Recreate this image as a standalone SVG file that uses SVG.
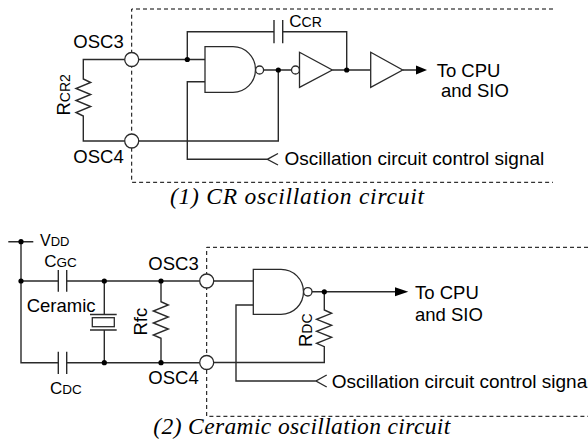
<svg xmlns="http://www.w3.org/2000/svg" width="588" height="445" viewBox="0 0 588 445">
<style>
.w{fill:none;stroke:#2a2a2a;stroke-width:1.4;stroke-linejoin:miter}
.d{fill:none;stroke:#000;stroke-width:1;stroke-dasharray:4 3}
.g{fill:#fff;stroke:#2a2a2a;stroke-width:1.3}
.t{font-family:"Liberation Sans",Arial,sans-serif;font-size:18.5px;fill:#000}
.s{font-size:14px}
.c{font-family:"Liberation Serif","Times New Roman",serif;font-style:italic;font-size:23.5px;fill:#000}
.dot{fill:#000}
</style>
<rect width="588" height="445" fill="#fff"/>
<g id="frames">
<path class="d" d="M553,9H131.7V182.3H553"/>
<path class="d" d="M588,247.3H206.7V416.3H588"/>
</g>
<g id="connectors">
<path class="w" d="M124.7,59.5H83.3V79L90.7,82.5L76,88.5L90.7,94.5L76,100.5L90.7,106.5L76,112.5L83.3,116V141H124.7"/>
<path class="w" d="M138.7,59.5H205"/>
<path class="w" d="M187.3,59.5V31.7H274M282.7,31.7H346.7V70"/>
<path class="w" d="M263.5,70H291.5M332.3,70H370.7M402.7,70H416"/>
<path class="w" d="M278.3,70V141H138.7"/>
<path class="w" d="M205,81.7H187.3V159.3H267.3M278,153.5L267.3,159.3L278,165"/>
<path class="w" d="M8.3,241.7H33.3M21,241.7V362.7H58.3M21,281H58.3M66.7,281H199.7M66.7,362.7H199.7"/>
<path class="w" d="M104.3,281V314.5M104.3,330V362.7"/>
<path class="w" d="M161,281V301.7L168.3,305L153.3,311L168.3,317L153.3,323L168.3,329L153.3,335L161,338.3V362.7"/>
<path class="w" d="M213.7,281H253.3"/>
<path class="w" d="M312,291.8H395"/>
<path class="w" d="M324.3,291.8V310L331.6,313.3L316.6,319.3L331.6,325.3L316.6,331.3L331.6,337.3L316.6,343.3L324.3,346.7V362.5H213.7"/>
<path class="w" d="M253.3,305H236V381H316M326.7,375L316,381L326.7,387"/>
<polygon points="416,65.5 427,70 416,74.5" fill="#000"/>
<polygon points="395,287.3 408.3,291.8 395,296.3" fill="#000"/>
</g>
<g id="dots">
<circle class="dot" cx="187.3" cy="59.5" r="2.6"/>
<circle class="dot" cx="278.3" cy="70" r="2.6"/>
<circle class="dot" cx="346.7" cy="70" r="2.6"/>
<circle class="dot" cx="21" cy="241.7" r="2.6"/>
<circle class="dot" cx="21" cy="281" r="2.6"/>
<circle class="dot" cx="104.3" cy="281" r="2.6"/>
<circle class="dot" cx="161" cy="281" r="2.6"/>
<circle class="dot" cx="104.3" cy="362.7" r="2.6"/>
<circle class="dot" cx="161" cy="362.7" r="2.6"/>
<circle class="dot" cx="324.3" cy="291.8" r="2.6"/>
</g>
<g id="osc3-top"><circle class="g" cx="131.7" cy="59.5" r="7"/><text class="t" x="73.3" y="48.3">OSC3</text></g>
<g id="osc4-top"><circle class="g" cx="131.7" cy="141" r="7"/><text class="t" x="73.3" y="163.3">OSC4</text></g>
<g id="rcr2"><text class="t" transform="translate(70,115.5) rotate(-90)">R<tspan class="s">CR2</tspan></text></g>
<g id="ccr">
<path class="w" d="M274,20V43.3M282.7,20V43.3"/>
<text class="t" x="289.3" y="26.7" style="font-size:17px">C<tspan class="s">CR</tspan></text>
</g>
<g id="nand-top">
<path class="g" d="M205,46.7H233A22.5,22.8 0 0 1 233,92.3H205Z"/>
<circle class="g" cx="259.6" cy="70" r="4"/>
</g>
<g id="inv-top">
<circle class="g" cx="295.5" cy="70" r="4"/>
<path class="g" d="M299.5,52.3L332.3,70L299.5,87.3Z"/>
</g>
<g id="buf-top"><path class="g" d="M370.7,52.3L402.7,70L370.7,87.3Z"/></g>
<g id="out-top"><text class="t" x="436.7" y="76.7">To CPU</text><text class="t" x="441" y="96.7">and SIO</text></g>
<g id="ctl-top"><text class="t" x="284.5" y="165" style="font-size:19px">Oscillation circuit control signal</text></g>
<g id="cap1"><text class="c" x="170" y="204" textLength="254" lengthAdjust="spacing">(1) CR oscillation circuit</text></g>
<g id="vdd"><text class="t" x="40" y="245.5" style="font-size:16px">V<tspan style="font-size:13px">DD</tspan></text></g>
<g id="cgc">
<path class="w" d="M58.3,270V291.7M66.7,270V291.7"/>
<text class="t" x="44.3" y="266.7" style="font-size:17px">C<tspan style="font-size:13.5px">GC</tspan></text>
</g>
<g id="cdc">
<path class="w" d="M58.3,351.7V374M66.7,351.7V374"/>
<text class="t" x="50" y="394" style="font-size:17px">C<tspan style="font-size:13.5px">DC</tspan></text>
</g>
<g id="ceramic">
<path class="w" d="M90,314.5H116.7M90,330H116.7"/>
<rect class="g" x="92.3" y="317.7" width="22" height="9"/>
<text class="t" x="26.7" y="311.7">Ceramic</text>
</g>
<g id="rfc"><text class="t" transform="translate(146.7,335.5) rotate(-90)">Rfc</text></g>
<g id="osc3-bot"><circle class="g" cx="206.7" cy="281" r="7"/><text class="t" x="148.3" y="270">OSC3</text></g>
<g id="osc4-bot"><circle class="g" cx="206.7" cy="362.5" r="7"/><text class="t" x="148.3" y="384">OSC4</text></g>
<g id="nand-bot">
<path class="g" d="M253.3,269.3H281A22.5,22.5 0 0 1 281,314.3H253.3Z"/>
<circle class="g" cx="307.8" cy="291.8" r="4.2"/>
</g>
<g id="rdc"><text class="t" transform="translate(311.5,347) rotate(-90)">R<tspan class="s">DC</tspan></text></g>
<g id="out-bot"><text class="t" x="415" y="299">To CPU</text><text class="t" x="415" y="321">and SIO</text></g>
<g id="ctl-bot"><text class="t" x="331.7" y="388.3" style="font-size:19px">Oscillation circuit control signal</text></g>
<g id="cap2"><text class="c" x="153.3" y="433.5" textLength="297" lengthAdjust="spacing">(2) Ceramic oscillation circuit</text></g>
</svg>
